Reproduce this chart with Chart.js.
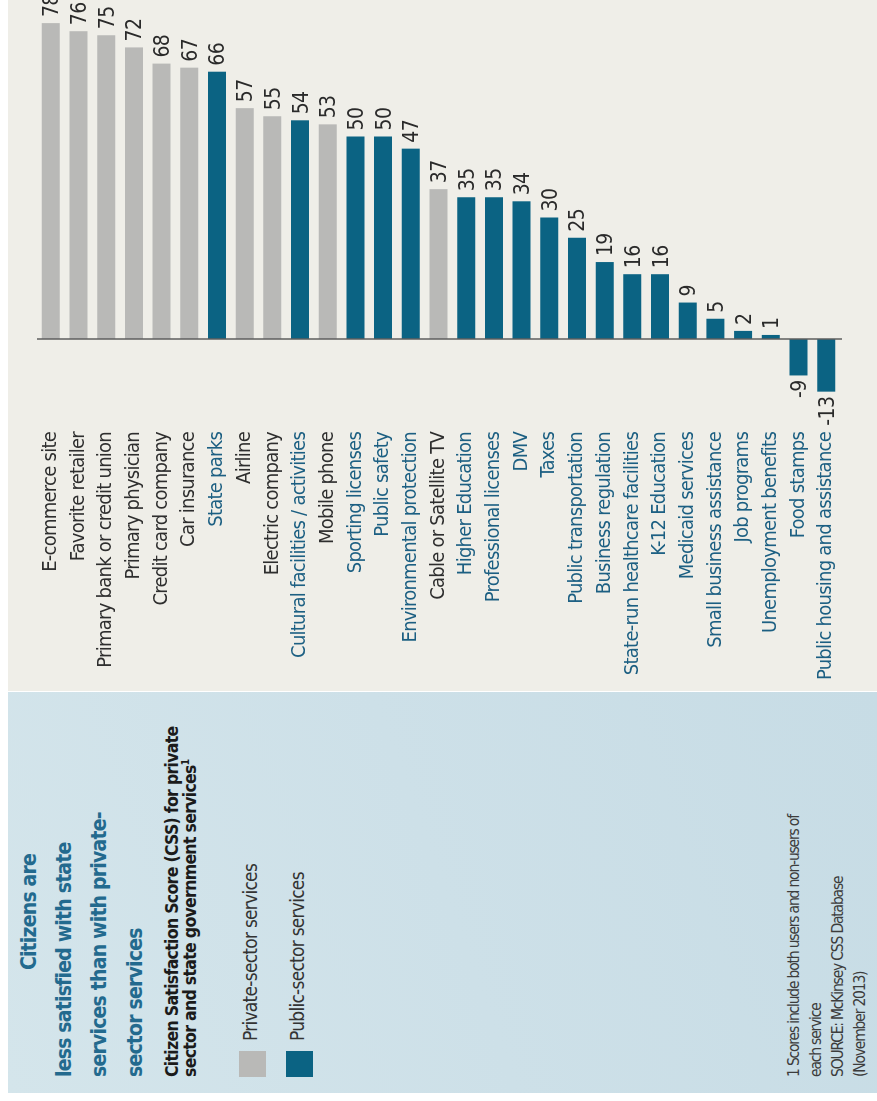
<!DOCTYPE html>
<html>
<head>
<meta charset="utf-8">
<script src="https://cdn.jsdelivr.net/npm/chart.js@4"></script>
<style>
  html, body { margin: 0; padding: 0; background: #fff; overflow: hidden; }
  body { width: 877px; height: 1101px; position: relative; }
  #page {
    position: absolute; left: 0; top: 0; width: 1101px; height: 877px;
    transform-origin: 0 0; transform: rotate(-90deg) translate(-1101px, 0);
    background: #fff;
    font-family: 'Liberation Sans Narrow', 'Arial Narrow', 'DejaVu Sans Condensed', sans-serif;
  }
  #panel {
    position: absolute; left: 8px; top: 8px; width: 401px; height: 869px;
    background: linear-gradient(160deg, #d4e5eb 0%, #cde0e8 50%, #c7dce5 100%);
  }
  #plotbg { position: absolute; left: 410px; top: 8px; width: 691px; height: 869px; background: #efeee8; }
  #box { position: absolute; left: 410px; top: 0; width: 691px; height: 877px; }
  .t { position: absolute; white-space: nowrap; line-height: 1; }
  .title { font-weight: bold; font-size: 21px; color: #236a8e; letter-spacing: -0.8px; }
  .sub { font-weight: bold; font-size: 17.5px; color: #1b1b1b; letter-spacing: -0.7px; }
  .leg { font-size: 19px; color: #333; letter-spacing: -0.75px; }
  .foot { font-size: 15.5px; color: #3c3c3c; letter-spacing: -1.2px; }
  .sw { position: absolute; width: 26px; height: 27px; }
</style>
</head>
<body>
<div id="page">
  <div id="panel"></div>
  <div id="plotbg"></div>
  <div class="t title" style="left:189px; top:19px; transform:translateX(-50%);">Citizens are</div>
  <div class="t title" style="left:24px; top:54px;">less satisfied with state</div>
  <div class="t title" style="left:24px; top:89px;">services than with private-</div>
  <div class="t title" style="left:24px; top:125px;">sector services</div>
  <div class="t sub" style="left:24px; top:164px;">Citizen Satisfaction Score (CSS) for private</div>
  <div class="t sub" style="left:24px; top:181px;">sector and state government services<sup style="font-size:10px">1</sup></div>
  <div id="legend"></div>
  <div class="t foot" style="left:24px; top:787px;">1 Scores include both users and non-users of</div>
  <div class="t foot" style="left:24px; top:809px;">each service</div>
  <div class="t foot" style="left:24px; top:831px;">SOURCE: McKinsey CSS Database</div>
  <div class="t foot" style="left:24px; top:853px;">(November 2013)</div>
  <div id="box"><canvas id="chart" width="691" height="877"></canvas></div>
</div>
<script>
var services = [
  'E-commerce site', 'Favorite retailer', 'Primary bank or credit union', 'Primary physician',
  'Credit card company', 'Car insurance', 'State parks', 'Airline', 'Electric company',
  'Cultural facilities / activities', 'Mobile phone', 'Sporting licenses', 'Public safety',
  'Environmental protection', 'Cable or Satellite TV', 'Higher Education', 'Professional licenses',
  'DMV', 'Taxes', 'Public transportation', 'Business regulation', 'State-run healthcare facilities',
  'K-12 Education', 'Medicaid services', 'Small business assistance', 'Job programs',
  'Unemployment benefits', 'Food stamps', 'Public housing and assistance'
];
var scores = [78, 76, 75, 72, 68, 67, 66, 57, 55, 54, 53, 50, 50, 47, 37, 35, 35, 34, 30, 25, 19, 16, 16, 9, 5, 2, 1, -9, -13];
var sectors = ['private', 'private', 'private', 'private', 'private', 'private', 'public', 'private', 'private',
  'public', 'private', 'public', 'public', 'public', 'private', 'public', 'public', 'public', 'public',
  'public', 'public', 'public', 'public', 'public', 'public', 'public', 'public', 'public', 'public'];
var legendNames = { 'private': 'Private-sector services', 'public': 'Public-sector services' };

var barColor = { 'private': '#b9b9b7', 'public': '#0b6383' };
var labelColor = { 'private': '#2e2e2e', 'public': '#1c5f82' };
var NARROW = "'Liberation Sans Narrow', 'Arial Narrow', 'DejaVu Sans Condensed', sans-serif";

// legend in the side panel
var legend = document.getElementById('legend');
['private', 'public'].forEach(function(key, i) {
  var top = 239 + i * 47;
  legend.insertAdjacentHTML('beforeend',
    '<div class="sw" style="left:24px; top:' + top + 'px; background:' + barColor[key] + '"></div>' +
    '<div class="t leg" style="left:60px; top:' + (top + 2) + 'px;">' + legendNames[key] + '</div>');
});

// tighter text like the condensed face in the original
var squeeze = {
  id: 'squeeze',
  beforeDraw: function(chart) { chart.ctx.letterSpacing = '-0.75px'; }
};

var zeroLine = {
  id: 'zeroLine',
  afterDatasetsDraw: function(chart) {
    var ctx = chart.ctx, area = chart.chartArea;
    var x0 = chart.scales.x.getPixelForValue(0);
    ctx.save();
    ctx.strokeStyle = '#5e5e5e';
    ctx.lineWidth = 1.5;
    ctx.beginPath();
    ctx.moveTo(x0, area.top);
    ctx.lineTo(x0, area.bottom + 2);
    ctx.stroke();
    ctx.restore();
  }
};

var valueLabels = {
  id: 'valueLabels',
  afterDatasetsDraw: function(chart) {
    var ctx = chart.ctx;
    var meta = chart.getDatasetMeta(0);
    ctx.save();
    ctx.font = '21px ' + NARROW;
    ctx.letterSpacing = '-0.6px';
    ctx.fillStyle = '#2a2a2a';
    ctx.textBaseline = 'alphabetic';
    meta.data.forEach(function(bar, i) {
      var v = scores[i];
      var y = bar.y + 7.5;
      if (v >= 0) {
        ctx.textAlign = 'left';
        ctx.fillText(String(v), bar.x + 6, y);
      } else {
        ctx.textAlign = 'right';
        ctx.fillText(String(v), bar.x - 5, y);
      }
    });
    ctx.restore();
  }
};

new Chart(document.getElementById('chart'), {
  type: 'bar',
  data: {
    labels: services,
    datasets: [{
      data: scores,
      backgroundColor: sectors.map(function(s) { return barColor[s]; }),
      borderWidth: 0,
      barPercentage: 0.65,
      categoryPercentage: 1.0
    }]
  },
  options: {
    indexAxis: 'y',
    responsive: false,
    animation: false,
    layout: { padding: { left: 0, right: 15, top: 37, bottom: 37 } },
    plugins: { legend: { display: false }, tooltip: { enabled: false } },
    scales: {
      x: { display: false, min: -20, max: 80 },
      y: {
        grid: { display: false, drawTicks: false },
        border: { display: false },
        ticks: {
          autoSkip: false,
          padding: 12,
          font: { family: NARROW, size: 20 },
          color: function(c) { return labelColor[sectors[c.index]]; }
        },
        afterFit: function(scale) { scale.width = 271; }
      }
    }
  },
  plugins: [squeeze, zeroLine, valueLabels]
});
</script>
</body>
</html>
